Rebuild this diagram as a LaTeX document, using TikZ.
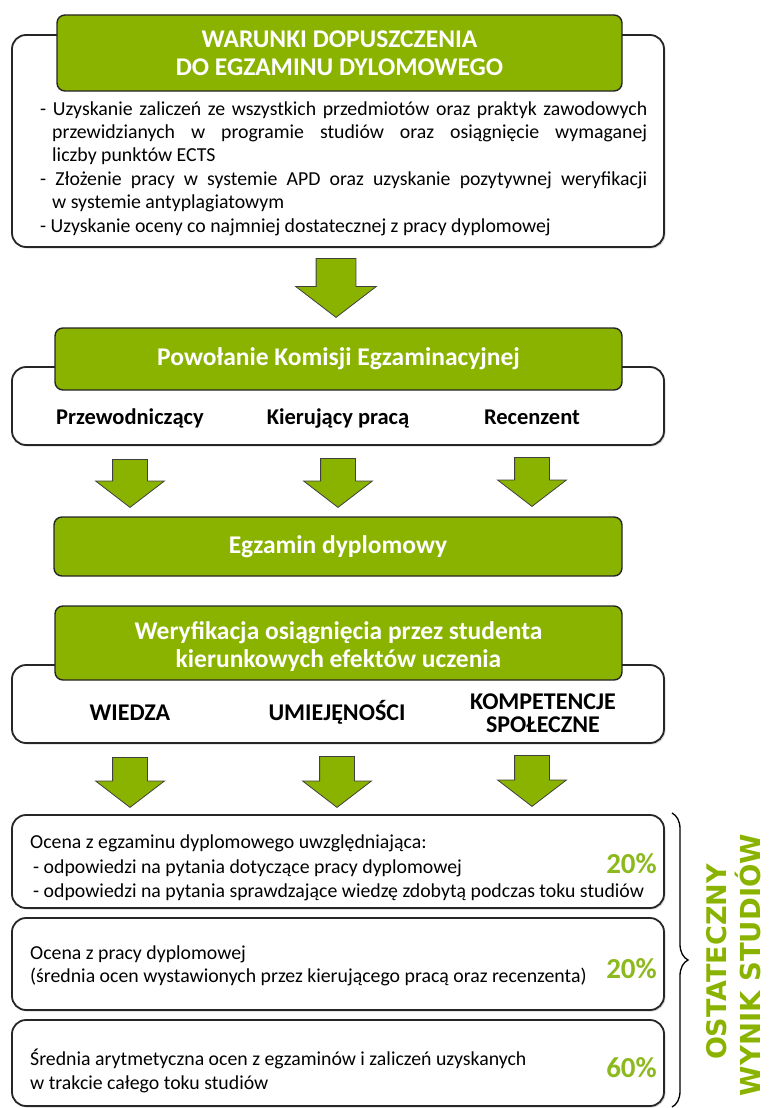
\documentclass[tikz,border=0pt]{standalone}
\usepackage{fontspec}
\setmainfont{Carlito}
\newfontfamily\heavyfont{DejaVu Sans}
\usepackage{tikz}
\usetikzlibrary{shapes.arrows,decorations.pathreplacing,shadows}
\definecolor{grn}{RGB}{138,179,0}
\definecolor{pctgrn}{RGB}{140,186,30}
\newcommand{\boxline}{1.8pt}

\begin{document}
\begin{tikzpicture}[x=1pt,y=-1pt,
  whitebox/.style={draw=black!85, line width=\boxline, fill=white, rounded corners=14pt, inner sep=0pt, drop shadow={opacity=.3,shadow xshift=1.5pt,shadow yshift=-1.5pt}},
  greenbox/.style={draw=black!85, line width=1.4pt, fill=grn, rounded corners=8pt, text=white, font=\bfseries\fontsize{25.5}{28}\selectfont, align=center, inner sep=0pt},
  downarrow/.style={single arrow, draw=black!75, fill=grn, line width=.8pt, rotate=-90, anchor=tail, inner xsep=0pt, single arrow tip angle=105},
  member/.style={font=\bfseries\fontsize{22.5}{23}\selectfont, anchor=base},
  caps/.style={font=\bfseries\fontsize{24}{23.5}\selectfont, align=center},
  bodytext/.style={font=\fontsize{19.8}{23.4}\selectfont, anchor=west, align=left, inner sep=0pt},
  pct/.style={font=\bfseries\fontsize{29}{30}\selectfont, text=pctgrn, anchor=east, inner sep=0pt}]
\useasboundingbox (0,0) rectangle (776,1108);

        \node (box1) at (338,141) [whitebox, minimum width=652pt, minimum height=212pt] {};
        \node (head1) at (339.5,53) [greenbox, minimum width=565pt, minimum height=76pt] {WARUNKI DOPUSZCZENIA\\DO EGZAMINU DYLOMOWEGO};
        \node (cond) at (40,168.5) [bodytext, text width=607pt, align=justify] {\parindent=0pt
          \hangindent=12pt\hangafter=1 - Uzyskanie zaliczeń ze wszystkich przedmiotów oraz praktyk zawodowych\linebreak przewidzianych w programie studiów oraz osiągnięcie wymaganej\linebreak liczby punktów ECTS\par
          \hangindent=12pt\hangafter=1 - Złożenie pracy w systemie APD oraz uzyskanie pozytywnej weryfikacji\linebreak w systemie antyplagiatowym\par
          - Uzyskanie oceny co najmniej dostatecznej z pracy dyplomowej\par};

        \node (arr1) at (336,258) [downarrow, inner ysep=19.5pt, minimum height=59pt, minimum width=80pt, single arrow head extend=20.5pt] {};

        \node (box2) at (338,406) [whitebox, minimum width=652pt, minimum height=78pt] {};
        \node (head2) at (338.5,359) [greenbox, minimum width=567pt, minimum height=62pt] {Powołanie Komisji Egzaminacyjnej};
        \node (chair) at (130,424) [member] {Przewodniczący};
        \node (super) at (338,424) [member] {Kierujący pracą};
        \node (rev) at (532,424) [member] {Recenzent};

        \node (arr2a) at (130,459) [downarrow, inner ysep=17pt, minimum height=48pt, minimum width=68pt, single arrow head extend=17pt] {};
        \node (arr2b) at (338,458) [downarrow, inner ysep=17pt, minimum height=49pt, minimum width=68pt, single arrow head extend=17pt] {};
        \node (arr2c) at (532,457) [downarrow, inner ysep=17pt, minimum height=49pt, minimum width=68pt, single arrow head extend=17pt] {};

        \node (exam) at (338,546.5) [greenbox, minimum width=568pt, minimum height=59pt] {Egzamin dyplomowy};

        \node (box4) at (338,704) [whitebox, minimum width=652pt, minimum height=78pt] {};
        \node (head4) at (338.5,643) [greenbox, minimum width=567pt, minimum height=74pt] {\rule{0pt}{24pt}Weryfikacja osiągnięcia przez studenta\\kierunkowych efektów uczenia};
        \node (know) at (130,720) [caps, anchor=base] {WIEDZA};
        \node (skill) at (337,720) [caps, anchor=base] {UMIEJĘNOŚCI};
        \node (comp) at (543,713) [caps] {KOMPETENCJE\\SPOŁECZNE};

        \node (arr4a) at (130,757) [downarrow, inner ysep=17pt, minimum height=50pt, minimum width=68pt, single arrow head extend=17pt] {};
        \node (arr4b) at (337,756) [downarrow, inner ysep=17pt, minimum height=51pt, minimum width=68pt, single arrow head extend=17pt] {};
        \node (arr4c) at (532,755) [downarrow, inner ysep=17pt, minimum height=51pt, minimum width=68pt, single arrow head extend=17pt] {};

        \node (partA) at (338,861.5) [whitebox, minimum width=652pt, minimum height=93pt] {};
        \node (partB) at (338,964) [whitebox, minimum width=652pt, minimum height=92pt] {};
        \node (partC) at (338,1063) [whitebox, minimum width=652pt, minimum height=86pt] {};

        \node (gradeA) at (30,868) [bodytext, font=\fontsize{19.8}{24.2}\selectfont] {Ocena z egzaminu dyplomowego uwzględniająca:\\\hspace*{3pt}- odpowiedzi na pytania dotyczące pracy dyplomowej\\\hspace*{3pt}- odpowiedzi na pytania sprawdzające wiedzę zdobytą podczas toku studiów};
        \node (gradeB) at (30,966) [bodytext] {Ocena z pracy dyplomowej\\(średnia ocen wystawionych przez kierującego pracą oraz recenzenta)};
        \node (gradeC) at (30,1071) [bodytext] {Średnia arytmetyczna ocen z egzaminów i zaliczeń uzyskanych\\w trakcie całego toku studiów};

        \node (pctA) at (657,864) [pct] {20\%};
        \node (pctB) at (657,969) [pct] {20\%};
        \node (pctC) at (657,1068) [pct] {60\%};

        \coordinate (braceTop) at (672,813);
        \coordinate (braceBot) at (672,1107);
        \draw[decorate, decoration={brace, amplitude=16pt}, line width=1.3pt] (braceTop) -- (braceBot);

        \node (final1) at (717,962) [rotate=90, text=grn, font=\heavyfont\bfseries\fontsize{27}{30}\selectfont] {OSTATECZNY};
        \node (final2) at (748,965) [rotate=90, text=grn, font=\heavyfont\bfseries\fontsize{27.5}{30}\selectfont] {WYNIK STUDIÓW};
\end{tikzpicture}
\end{document}
